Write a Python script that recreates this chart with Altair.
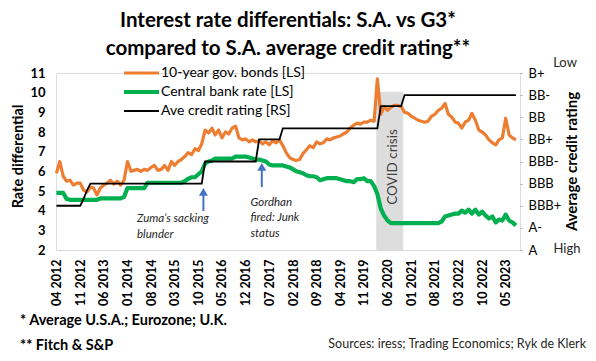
import json
import altair as alt
import pandas as pd

FONT = "Lato"

# ---------------- data ----------------
months = pd.date_range("2012-04-01", periods=137, freq="MS")
dates = months.strftime("%Y-%m-%dT00:00:00").tolist()

bonds = [
    5.9, 6.5, 5.75, 5.5, 5.55, 5.3, 5.4, 5.4, 5.05, 4.95,
    5.2, 5.15, 4.8, 5.15, 5.3, 5.4, 5.55, 5.35, 5.5, 5.3,
    5.55, 6.5, 6.0, 6.05, 6.1, 6.0, 6.1, 6.05, 6.2, 6.3,
    6.05, 6.1, 6.3, 6.05, 6.5, 6.3, 6.5, 6.6, 6.75, 6.95,
    6.85, 7.15, 7.05, 7.4, 8.1, 7.95, 8.2, 7.85, 8.1, 7.7,
    8.0, 7.9, 8.2, 8.3, 7.7, 7.6, 7.65, 7.5, 7.6, 7.5,
    7.55, 7.4, 7.5, 7.35, 7.55, 7.45, 7.6, 7.3, 6.95, 6.7,
    6.6, 6.55, 6.6, 6.9, 7.1, 7.3, 7.2, 7.5, 7.4, 7.45,
    7.65, 7.6, 7.7, 7.75, 7.8, 7.9, 8.0, 8.2, 8.35, 8.45,
    8.4, 8.5, 8.5, 8.6, 8.55, 10.7, 8.9, 9.3, 9.1, 9.25,
    9.35, 9.35, 9.3, 9.0, 8.95, 8.8, 8.7, 8.6, 8.55, 8.5,
    8.55, 8.8, 8.9, 9.1, 9.2, 9.45, 8.9, 8.75, 8.5, 8.45,
    8.2, 8.5, 8.6, 8.95, 8.6, 8.1, 8.0, 7.85, 7.6, 7.45,
    7.35, 7.6, 7.7, 8.7, 7.85, 7.7, 7.6,
]

cbr = [
    4.9, 4.9, 4.9, 4.6, 4.55, 4.55, 4.55, 4.55, 4.55, 4.55,
    4.55, 4.55, 4.55, 4.62, 4.62, 4.62, 4.62, 4.62, 4.62, 4.62,
    4.7, 5.15, 5.15, 5.15, 5.15, 5.15, 5.15, 5.42, 5.42, 5.42,
    5.42, 5.42, 5.42, 5.42, 5.42, 5.42, 5.42, 5.42, 5.5, 5.62,
    5.7, 5.7, 5.85, 6.0, 6.4, 6.5, 6.55, 6.65, 6.65, 6.65,
    6.65, 6.65, 6.65, 6.75, 6.75, 6.75, 6.75, 6.7, 6.65, 6.6,
    6.6, 6.55, 6.5, 6.35, 6.3, 6.3, 6.3, 6.3, 6.25, 6.2,
    6.1, 6.0, 5.95, 5.9, 5.8, 5.75, 5.75, 5.7, 5.55, 5.6,
    5.65, 5.65, 5.65, 5.65, 5.6, 5.55, 5.5, 5.5, 5.45, 5.6,
    5.6, 5.65, 5.5, 5.5, 5.25, 4.85, 4.1, 3.75, 3.5, 3.37,
    3.37, 3.37, 3.37, 3.37, 3.37, 3.37, 3.37, 3.37, 3.37, 3.37,
    3.37, 3.37, 3.37, 3.37, 3.45, 3.7, 3.75, 3.8, 3.85, 3.85,
    4.0, 3.9, 4.05, 3.85, 4.05, 3.8, 3.95, 3.75, 3.6, 3.7,
    3.4, 3.55, 3.5, 3.8, 3.5, 3.4, 3.25,
]

# average credit rating, 0 = A ... 8 = B+
rating = [
    2, 2, 2, 2, 2, 2, 2, 2, 2.3, 2.7,
    3, 3, 3, 3, 3, 3, 3, 3, 3, 3,
    3, 3, 3, 3, 3, 3, 3, 3, 3, 3,
    3, 3, 3, 3, 3, 3, 3, 3, 3, 3,
    3, 3, 3, 3, 4, 4, 4, 4, 4, 4,
    4, 4, 4, 4, 4, 4, 4, 4, 4, 4,
    5, 5, 5, 5, 5, 5, 5, 5.5, 5.5, 5.5,
    5.5, 5.5, 5.5, 5.5, 5.5, 5.5, 5.5, 5.5, 5.5, 5.5,
    5.5, 5.5, 5.5, 5.5, 5.5, 5.5, 5.5, 5.5, 5.5, 5.5,
    5.5, 5.5, 5.5, 5.5, 5.5, 5.5, 6.5, 6.5, 6.5, 6.5,
    6.5, 6.5, 6.5, 7, 7, 7, 7, 7, 7, 7,
    7, 7, 7, 7, 7, 7, 7, 7, 7, 7,
    7, 7, 7, 7, 7, 7, 7, 7, 7, 7,
    7, 7, 7, 7, 7, 7, 7,
]

series_names = ["10-year gov. bonds [LS]", "Central bank rate [LS]", "Ave credit rating [RS]"]
series_colors = ["#ED7D31", "#00B050", "#000000"]
series_widths = [3.2, 4.2, 1.8]
rating_labels = ["A", "A-", "BBB+", "BBB", "BBB-", "BB+", "BB", "BB-", "B+"]

title_lines = ["Interest rate differentials: S.A. vs G3*",
               "compared to S.A. average credit rating**"]

covid_start = ["2020-02-20T00:00:00"]
covid_end = ["2020-10-20T00:00:00"]
covid_top = [10.05]
covid_label = ["COVID crisis"]
covid_label_date = ["2020-07-22T00:00:00"]

arrow_dates = ["2015-11-16T00:00:00", "2017-04-25T00:00:00"]
arrow_tips = [5.2, 6.48]
arrow_bottoms = [3.98, 5.2]

ann_dates = ["2014-03-28T00:00:00", "2017-01-13T00:00:00"]
ann_values = [3.88, 4.71]
ann_texts = ["Zuma\u2019s sacking\nblunder", "Gordhan\nfired: Junk\nstatus"]

footer_1 = "* Average U.S.A.; Eurozone; U.K."
footer_2 = "** Fitch & S&P"
sources = "Sources: iress; Trading Economics; Ryk de Klerk"

# ---------------- tables ----------------
bonds_df = pd.DataFrame({"date": dates, "value": bonds})
cbr_df = pd.DataFrame({"date": dates, "value": cbr})
rating_df = pd.DataFrame({"date": dates, "rating": rating})
band_df = pd.DataFrame({
    "start": covid_start, "end": covid_end, "bottom": [2], "top": covid_top,
})
covid_df = pd.DataFrame({"label": covid_label, "ldate": covid_label_date})
arrow_df = pd.DataFrame({
    "date": arrow_dates, "bottom": arrow_bottoms,
    "head": [t - 0.25 for t in arrow_tips],
})
ann_df = pd.DataFrame({"date": ann_dates, "value": ann_values, "text": ann_texts})
legend_df = pd.DataFrame({"series": series_names})

tick_values = [alt.DateTime(year=int(d.year), month=int(d.month), date=1) for d in months[::7]]

# ---------------- scales / axes ----------------
x_scale = alt.Scale(domain=[alt.DateTime(year=2012, month=3, date=28),
                            alt.DateTime(year=2023, month=9, date=7)])
x_axis = alt.Axis(values=tick_values, format="%m %Y", labelAngle=270, labelAlign="right",
                  labelBaseline="middle", labelFont=FONT, labelFontSize=12.5,
                  labelFontWeight="bold", labelColor="#000000", labelPadding=9,
                  labelOverlap=False, labelFlush=False, labelBound=False,
                  ticks=False, domainColor="#d9d9d9", domainWidth=1, grid=False, title=None)

y_scale = alt.Scale(domain=[2, 11], nice=False, zero=False)
y_axis = alt.Axis(values=list(range(2, 12)), title="Rate differential", titleFont=FONT,
                  titleFontSize=14.5, titleFontWeight="bold", titleColor="#000000",
                  titleAngle=270, titleX=-38, titleY=83, titleAlign="center",
                  titleBaseline="middle", labelFont=FONT, labelFontSize=13,
                  labelFontWeight="bold", labelColor="#000000", labelPadding=11,
                  ticks=False, domain=False, grid=False)

r_scale = alt.Scale(domain=[0, 8], nice=False, zero=False)
r_axis = alt.Axis(orient="right", values=list(range(9)),
                  labelExpr=json.dumps(rating_labels) + "[datum.value]",
                  title="Average credit rating", titleFont=FONT, titleFontSize=15,
                  titleFontWeight="bold", titleColor="#000000", titleAngle=270,
                  titleX=51, titleY=88, titleAlign="center", titleBaseline="middle",
                  labelFont=FONT, labelFontSize=13, labelColor="#000000",
                  labelPadding=6, ticks=True, tickSize=2, tickColor="#a6a6a6",
                  domain=False, grid=False)

# ---------------- left-axis layers ----------------
band = alt.Chart(band_df).mark_rect(color="#dddddd").encode(
    x=alt.X("start:T", scale=x_scale, axis=x_axis),
    x2="end:T",
    y=alt.Y("bottom:Q", scale=y_scale, axis=y_axis),
    y2="top:Q",
)
band_text = alt.Chart(covid_df).mark_text(angle=270, align="center", baseline="middle",
                                           font=FONT, fontSize=13.5,
                                           color="#404040").encode(
    x=alt.X("ldate:T", scale=x_scale, axis=x_axis),
    y=alt.value(94),
    text="label:N",
)
orange = alt.Chart(bonds_df).mark_line(strokeJoin="round", color=series_colors[0],
                                       strokeWidth=series_widths[0]).encode(
    x=alt.X("date:T", scale=x_scale, axis=x_axis),
    y=alt.Y("value:Q", scale=y_scale, axis=y_axis),
)
green = alt.Chart(cbr_df).mark_line(strokeJoin="round", color=series_colors[1],
                                    strokeWidth=series_widths[1]).encode(
    x=alt.X("date:T", scale=x_scale, axis=x_axis),
    y=alt.Y("value:Q", scale=y_scale, axis=y_axis),
)
arrow_shaft = alt.Chart(arrow_df).mark_rule(color="#4472C4", strokeWidth=2).encode(
    x=alt.X("date:T", scale=x_scale, axis=x_axis),
    y=alt.Y("bottom:Q", scale=y_scale, axis=y_axis),
    y2="head:Q",
)
arrow_head = alt.Chart(arrow_df).mark_point(shape="triangle-up", filled=True, size=80,
                                            color="#4472C4", opacity=1).encode(
    x=alt.X("date:T", scale=x_scale, axis=x_axis),
    y=alt.Y("head:Q", scale=y_scale, axis=y_axis),
)
ann = alt.Chart(ann_df).mark_text(align="left", baseline="top", font=FONT, fontSize=11.5,
                                  fontStyle="italic", lineBreak="\n", lineHeight=15.5,
                                  color="#262626").encode(
    x=alt.X("date:T", scale=x_scale, axis=x_axis),
    y=alt.Y("value:Q", scale=y_scale, axis=y_axis),
    text="text:N",
)
left = alt.layer(band, band_text, green, orange, arrow_shaft, arrow_head, ann)

# ---------------- right-axis layer ----------------
black = alt.Chart(rating_df).mark_line(strokeJoin="miter", color=series_colors[2],
                                       strokeWidth=series_widths[2]).encode(
    x=alt.X("date:T", scale=x_scale, axis=x_axis),
    y=alt.Y("rating:Q", scale=r_scale, axis=r_axis),
)

# ---------------- legend + notes ----------------
leg_y = alt.Y("series:N", scale=alt.Scale(type="point", domain=series_names,
                                          range=[0, 38], padding=0), axis=None)
leg_rules = [
    alt.Chart(legend_df).transform_filter(alt.datum.series == name).mark_rule(
        strokeCap="butt", color=col, strokeWidth=w).encode(
        x=alt.value(68), x2=alt.value(103), y=leg_y)
    for name, col, w in zip(series_names, series_colors, series_widths)
]
leg_text = alt.Chart(legend_df).mark_text(align="left", baseline="middle", font=FONT,
                                          fontSize=14, color="#000000").encode(
    x=alt.value(105), y=leg_y, text="series:N",
)
legend = alt.layer(*leg_rules, leg_text)


def note(txt, x, y, color="#000000", **kw):
    return alt.Chart(pd.DataFrame({"t": [txt]})).mark_text(font=FONT, color=color, **kw).encode(
        x=alt.value(x), y=alt.value(y), text="t:N")


notes = [
    note("Low", 509, -10, color="#262626", fontSize=13, align="center", baseline="middle"),
    note("High", 511, 176, color="#262626", fontSize=13, align="center", baseline="middle"),
    note(footer_1, -36, 248, fontSize=14.5, fontWeight="bold", align="left", baseline="middle"),
    note(footer_2, -36, 273, fontSize=14.5, fontWeight="bold", align="left", baseline="middle"),
    note(sources, 530, 271, color="#262626", fontSize=12.5, align="right", baseline="middle"),
]

chart = alt.layer(left, black, legend, *notes).resolve_scale(
    y="independent"
).properties(
    width=464,
    height=177,
    padding={"left": 48, "top": 65, "right": 68, "bottom": 103},
    autosize=alt.AutoSizeParams(type="none"),
    title=alt.TitleParams(title_lines, font=FONT, fontSize=20.5, fontWeight="bold",
                          color="#000000", anchor="middle", lineHeight=28, offset=-2),
).configure_view(stroke=None).configure(font=FONT, background="white")

chart.save("out.html", embed_options={"renderer": "svg", "actions": False})
